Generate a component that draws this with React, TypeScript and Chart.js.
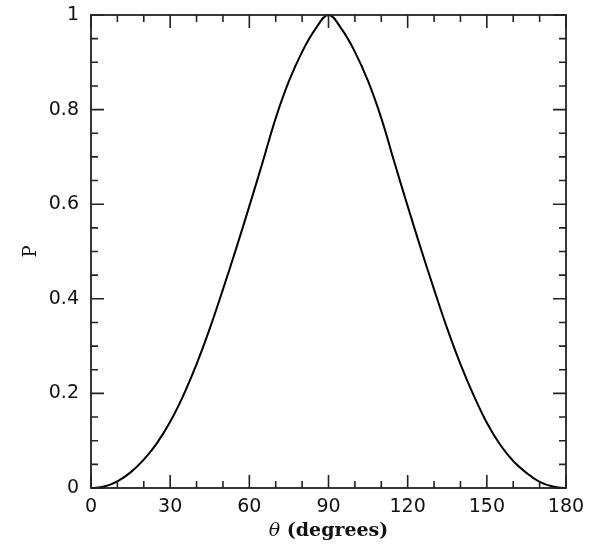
import React, { useEffect, useRef } from "react";
import { Chart, registerables } from "chart.js";

Chart.register(...registerables);

// ---- data ----
const thetaDeg = [0, 5, 10, 15, 20, 25, 30, 35, 40, 45, 50, 55, 60, 65, 70, 75, 80, 85, 90,
  95, 100, 105, 110, 115, 120, 125, 130, 135, 140, 145, 150, 155, 160, 165, 170, 175, 180];
const pValues = [0, 0.003, 0.014, 0.033, 0.06, 0.095, 0.14, 0.196, 0.262, 0.337, 0.42, 0.506, 0.596, 0.688, 0.782, 0.86, 0.922, 0.97, 1,
  0.97, 0.922, 0.86, 0.782, 0.688, 0.596, 0.506, 0.42, 0.337, 0.262, 0.196, 0.138, 0.092, 0.057, 0.032, 0.013, 0.003, 0];

const xTickValues = [0, 30, 60, 90, 120, 150, 180];
const xTickLabels = ["0", "30", "60", "90", "120", "150", "180"];
const yTickValues = [0, 0.2, 0.4, 0.6, 0.8, 1];
const yTickLabels = ["0", "0.2", "0.4", "0.6", "0.8", "1"];
const xMinorStep = 10;
const yMinorStep = 0.05;
const xTitleSymbol = "θ";
const xTitleText = " (degrees)";
const yTitle = "P";

const frameColor = "#222";

const framePlugin = {
  id: "frameTicks",
  afterDatasetsDraw(chart: any) {
    const { ctx, chartArea, scales } = chart;
    const xs = scales.x;
    const ys = scales.y;
    const { left, right, top, bottom } = chartArea;
    ctx.save();
    ctx.strokeStyle = frameColor;
    ctx.lineWidth = 1.8;
    ctx.strokeRect(left, top, right - left, bottom - top);
    const majorLen = 13;
    const minorLen = 7;
    ctx.lineWidth = 1.6;
    ctx.beginPath();
    for (let i = 0; xs.min + i * xMinorStep <= xs.max + 1e-9; i++) {
      const v = xs.min + i * xMinorStep;
      const isMajor = xTickValues.some((t) => Math.abs(t - v) < 1e-6);
      const len = isMajor ? majorLen : minorLen;
      const px = xs.getPixelForValue(v);
      ctx.moveTo(px, bottom);
      ctx.lineTo(px, bottom - len);
      ctx.moveTo(px, top);
      ctx.lineTo(px, top + len);
    }
    for (let i = 0; ys.min + i * yMinorStep <= ys.max + 1e-9; i++) {
      const v = ys.min + i * yMinorStep;
      const isMajor = yTickValues.some((t) => Math.abs(t - v) < 1e-6);
      const len = isMajor ? majorLen : minorLen;
      const py = ys.getPixelForValue(v);
      ctx.moveTo(left, py);
      ctx.lineTo(left + len, py);
      ctx.moveTo(right, py);
      ctx.lineTo(right - len, py);
    }
    ctx.stroke();

    // axis titles
    ctx.fillStyle = "#111";
    const cx = (left + right) / 2;
    const ty = 531;
    ctx.textBaseline = "middle";
    ctx.font = "italic 19px 'DejaVu Serif'";
    const w1 = ctx.measureText(xTitleSymbol).width;
    ctx.font = "bold 19px 'DejaVu Serif'";
    const w2 = ctx.measureText(xTitleText).width;
    const start = cx - (w1 + w2) / 2;
    ctx.textAlign = "left";
    ctx.font = "italic 19px 'DejaVu Serif'";
    ctx.fillText(xTitleSymbol, start, ty);
    ctx.font = "bold 19px 'DejaVu Serif'";
    ctx.fillText(xTitleText, start + w1, ty);

    ctx.translate(31, (top + bottom) / 2);
    ctx.rotate(-Math.PI / 2);
    ctx.textAlign = "center";
    ctx.font = "18px 'DejaVu Serif'";
    ctx.fillText(yTitle, 0, 0);
    ctx.restore();
  },
};

export default function App() {
  const ref = useRef<HTMLCanvasElement | null>(null);
  useEffect(() => {
    document.body.style.margin = "0";
    const canvas = ref.current;
    if (!canvas) return;
    const chart = new Chart(canvas, {
      type: "line",
      data: {
        datasets: [
          {
            data: thetaDeg.map((t, i) => ({ x: t, y: pValues[i] })),
            borderColor: "#000",
            borderWidth: 2,
            pointRadius: 0,
            fill: false,
            tension: 0.4,
            clip: false as any,
          },
        ],
      },
      options: {
        responsive: false,
        animation: false,
        layout: { padding: { top: 15, right: 30, left: 0, bottom: 0 } },
        plugins: { legend: { display: false }, tooltip: { enabled: false } },
        scales: {
          x: {
            type: "linear",
            min: 0,
            max: 180,
            grid: { display: false, drawTicks: false },
            border: { display: false },
            afterBuildTicks: (s: any) => {
              s.ticks = xTickValues.map((v) => ({ value: v }));
            },
            afterFit: (s: any) => {
              s.height = 57;
              s.paddingLeft = 0;
              s.paddingRight = 0;
            },
            ticks: {
              padding: 8,
              maxRotation: 0,
              autoSkip: false,
              color: "#111",
              font: { family: "'DejaVu Sans'", size: 19 },
              callback: (v: any) => {
                const i = xTickValues.findIndex((t) => Math.abs(t - v) < 1e-6);
                return i >= 0 ? xTickLabels[i] : "";
              },
            },
          },
          y: {
            type: "linear",
            min: 0,
            max: 1,
            grid: { display: false, drawTicks: false },
            border: { display: false },
            afterBuildTicks: (s: any) => {
              s.ticks = yTickValues.map((v) => ({ value: v }));
            },
            afterFit: (s: any) => {
              s.width = 91;
              s.paddingTop = 0;
              s.paddingBottom = 0;
            },
            ticks: {
              padding: 12,
              autoSkip: false,
              color: "#111",
              font: { family: "'DejaVu Sans'", size: 19 },
              callback: (v: any) => {
                const i = yTickValues.findIndex((t) => Math.abs(t - v) < 1e-6);
                return i >= 0 ? yTickLabels[i] : "";
              },
            },
          },
        },
      },
      plugins: [framePlugin],
    } as any);
    return () => chart.destroy();
  }, []);
  return (
    <div style={{ width: 596, height: 545, background: "#fff" }}>
      <canvas ref={ref} width={596} height={545} style={{ display: "block" }} />
    </div>
  );
}
